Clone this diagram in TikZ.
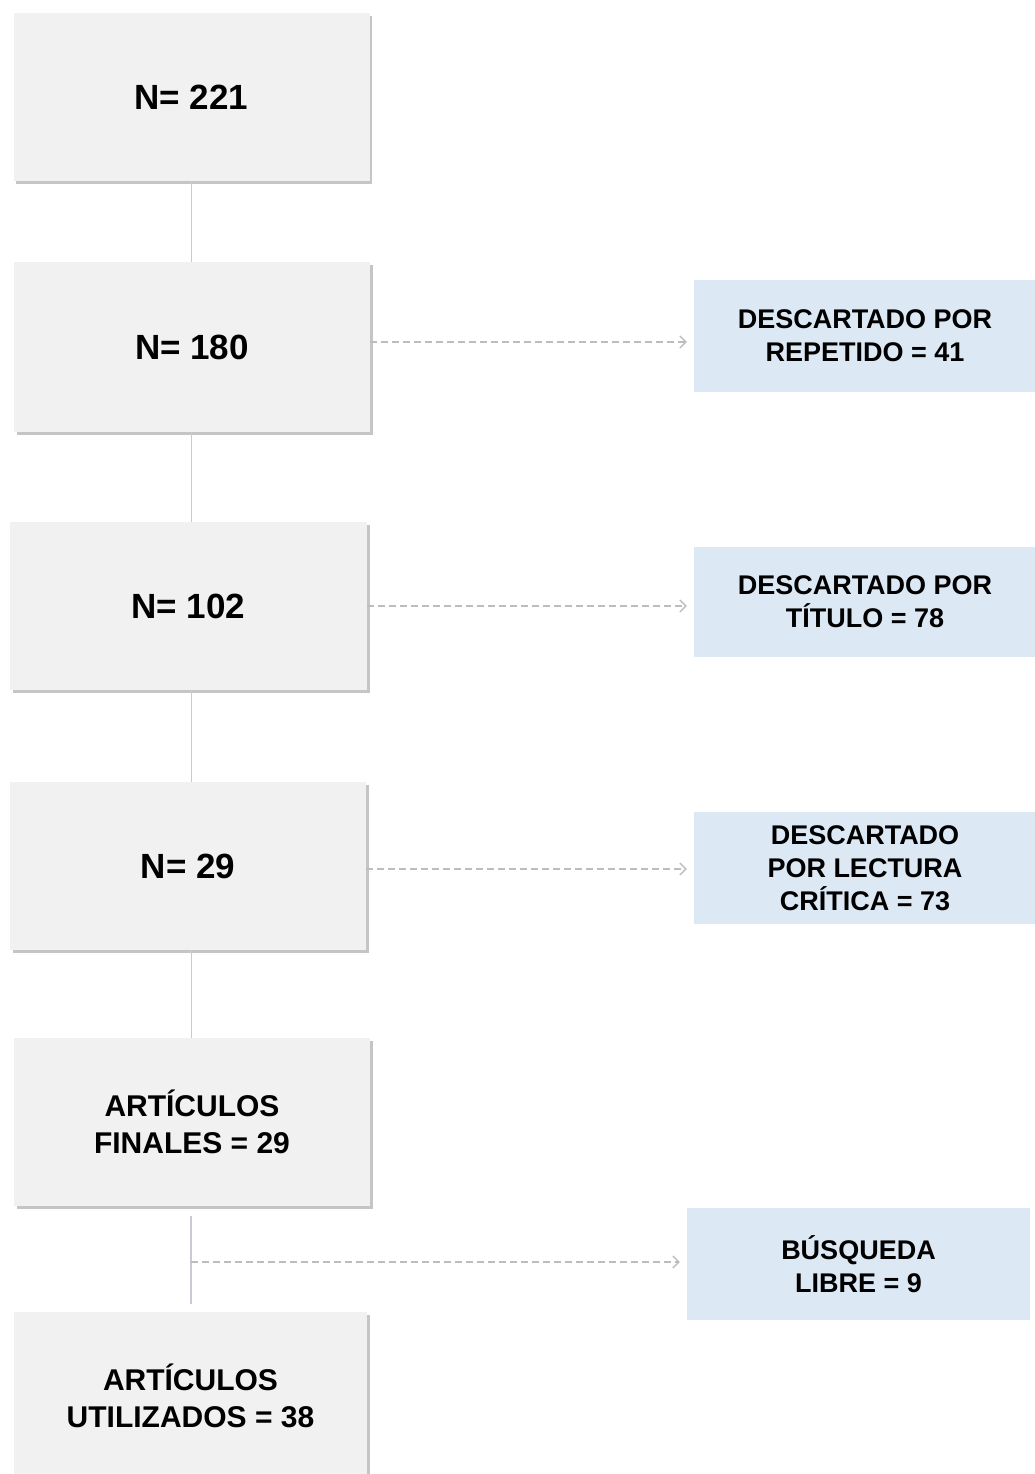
\documentclass[tikz,border=0pt]{standalone}
\usepackage{fontspec}
\setmainfont{Liberation Sans}
\usetikzlibrary{shadows,arrows.meta}

\definecolor{stagegray}{HTML}{F1F1F1}
\definecolor{dropblue}{HTML}{DDE8F5}
\definecolor{linkgray}{HTML}{C9CAD8}
\definecolor{dashgray}{HTML}{BDBDBD}

\begin{document}
\begin{tikzpicture}[x=1pt,y=-1pt]
    % `stage' is used for the grey boxes on the left (counts).
    % `drop' is used for the blue boxes on the right (discarded / added).
    % `link' and `skip' are the solid and dashed connectors.
    \tikzstyle{stage} = [fill=stagegray,inner sep=0pt,align=center,
      minimum width=356pt,minimum height=168pt,
      drop shadow={shadow xshift=2.5pt,shadow yshift=-2.5pt,fill=black!45}]
    \tikzstyle{drop} = [fill=dropblue,inner sep=0pt,align=center,
      minimum width=342pt,minimum height=112pt,
      font=\fontsize{27}{33}\selectfont\bfseries]
    \tikzstyle{countfont} = [font=\fontsize{35}{42}\selectfont\bfseries]
    \tikzstyle{twofont} = [font=\fontsize{30}{36.5}\selectfont\bfseries]
    \tikzstyle{link} = [draw=linkgray,line width=1.3pt]
    \tikzstyle{skip} = [draw=dashgray,line width=1.2pt,dash pattern=on 7pt off 4pt,
      -{Straight Barb[length=6pt,width=12pt,line width=1.3pt]},shorten >=7pt]
    %
    \useasboundingbox (0,0) rectangle (1035,1474);
    %
    % Left column.
    \node[stage,countfont] (n221) at (191.5,97.5) {N= 221};
    \node[stage,countfont,minimum height=170pt] (n180) at (192,347) {N= 180};
    \node[stage,countfont,minimum width=357pt] (n102) at (188.5,606) {N= 102};
    \node[stage,countfont] (n29) at (188,866) {N= 29};
    \node[stage,twofont] (finales) at (192,1122) {ARTÍCULOS\\FINALES = 29};
    \node[stage,twofont,minimum width=353pt] (usados) at (190.5,1396) {ARTÍCULOS\\UTILIZADOS = 38};
    %
    % Right column.
    \node[drop] (repetido) at (865,336) {DESCARTADO POR\\REPETIDO = 41};
    \node[drop,minimum height=110pt] (titulo) at (865,602) {DESCARTADO POR\\TÍTULO = 78};
    \node[drop] (critica) at (865,868) {DESCARTADO\\POR LECTURA\\CRÍTICA = 73};
    \node[drop,minimum width=343pt] (libre) at (858.5,1264) {BÚSQUEDA\\LIBRE = 9};
    %
    % Free ends of the last solid line.
    \coordinate (gapTop) at (191,1216);
    \coordinate (gapBot) at (191,1304);
    \coordinate (join) at (191,1262);
    %
    % Draw lines.
    \draw[link] (n221.south) -- (n221.south |- n180.north);
    \draw[link] (n180.south -| n221.south) -- (n102.north -| n221.south);
    \draw[link] (n102.south -| n221.south) -- (n29.north -| n221.south);
    \draw[link] (n29.south -| n221.south) -- (finales.north -| n221.south);
    \draw[link] (gapTop) -- (gapBot);
    %
    % Draw dashed arrows.
    \draw[skip] ([yshift=5pt]n180.east) -- ([yshift=5pt]n180.east -| repetido.west);
    \draw[skip] (n102.east) -- (n102.east -| titulo.west);
    \draw[skip] ([yshift=-3pt]n29.east) -- ([yshift=-3pt]n29.east -| critica.west);
    \draw[skip] (join) -- (join -| libre.west);
\end{tikzpicture}
\end{document}
